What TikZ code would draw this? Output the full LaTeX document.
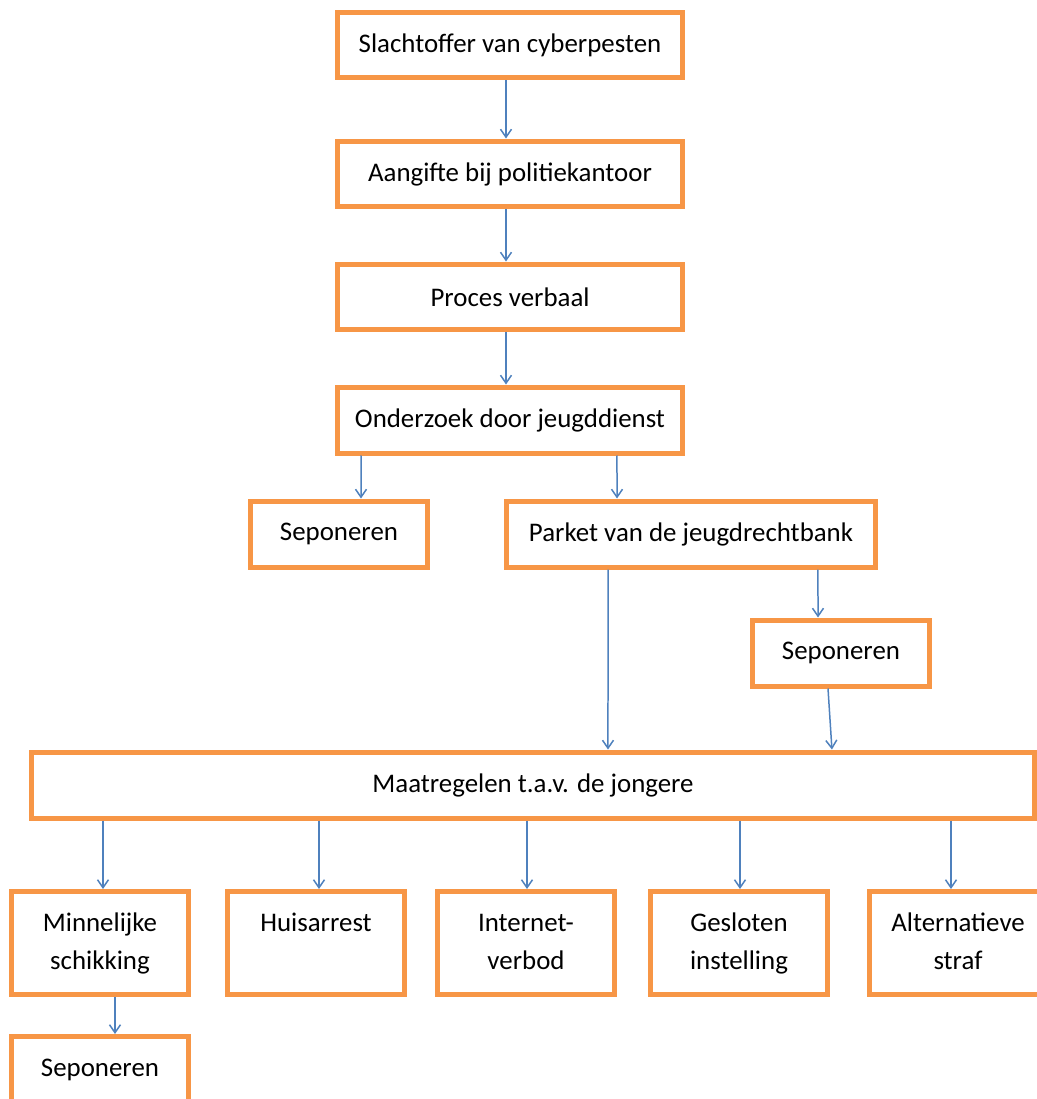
\documentclass[tikz,border=0pt]{standalone}
\usepackage{fontspec}
\setmainfont{Carlito}
\usetikzlibrary{positioning, arrows.meta}
\usepackage{xcolor}

\definecolor{boxorange}{HTML}{F79646}
\definecolor{arrowblue}{HTML}{4F81BD}

\begin{document}
\begin{tikzpicture}[x=0.02cm, y=-0.02cm,
    stepbox/.style={draw=boxorange, line width=0.1cm, minimum height=1.32cm, inner sep=2pt,
        font=\fontsize{15.3}{21.5}\selectfont},
    smallbox/.style={stepbox, minimum width=3.54cm, minimum height=2.06cm, align=center},
    flow/.style={draw=arrowblue, line width=0.03cm, -{Straight Barb[length=0.16cm, width=0.22cm]}}]
            \useasboundingbox (0,0) rectangle (1037,1099);
            \clip (0,0) rectangle (1037,1099);
            % chain at the top
            \node[stepbox, minimum width=6.9cm] (slacht) at (510,45) {Slachtoffer van cyberpesten};
            \node[stepbox, minimum width=6.9cm] (aangifte) at (510,174) {Aangifte bij politiekantoor};
            \node[stepbox, minimum width=6.9cm] (proces) at (510,297) {Proces verbaal};
            \node[stepbox, minimum width=6.9cm] (onderzoek) at (510,420) {Onderzoek door jeugddienst};
            \node[stepbox, minimum width=3.54cm] (sepA) at (339,534) {Seponeren};
            \node[stepbox, minimum width=7.38cm] (parket) at (691,534) {Parket van de jeugdrechtbank};
            \node[stepbox, minimum width=3.54cm] (sepB) at (841,653) {Seponeren};
            \node[stepbox, minimum width=20.06cm] (maat) at (533,785) {Maatregelen t.a.v. de jongere};

            \draw[flow] ([xshift=-0.08cm]slacht.south) -- ([xshift=-0.08cm]aangifte.north);
            \draw[flow] ([xshift=-0.08cm]aangifte.south) -- ([xshift=-0.08cm]proces.north);
            \draw[flow] ([xshift=-0.08cm]proces.south) -- ([xshift=-0.08cm]onderzoek.north);
            \draw[flow] ([xshift=-2.98cm]onderzoek.south) -- ([xshift=0.44cm]sepA.north);
            \draw[flow] ([xshift=2.14cm]onderzoek.south) -- ([xshift=-1.48cm]parket.north);
            \draw[flow] ([xshift=-1.66cm]parket.south) -- ([xshift=1.5cm]maat.north);
            \draw[flow] ([xshift=2.54cm]parket.south) -- ([xshift=-0.46cm]sepB.north);
            \draw[flow] ([xshift=-0.26cm]sepB.south) -- ([xshift=5.98cm]maat.north);

            % the measures
            \foreach \name/\cx/\s/\txt in {minn/100/0.06cm/{\strut Minnelijke\\\strut schikking},
                huis/316/0.06cm/{\strut Huisarrest\\\strut}, inet/526/0.02cm/{\strut Internet-\\\strut verbod},
                gesl/739/0.02cm/{\strut Gesloten\\\strut instelling}, alt/958/-0.14cm/{\strut Alternatieve\\\strut straf}}
            {
                \node[smallbox] (\name) at (\cx,943) {\txt};
                \draw[flow] ([xshift=\s]\name.north |- maat.south) -- ([xshift=\s]\name.north);
            }
            \node[smallbox] (sepC) at (100,1088) {\strut Seponeren\\\strut};
            \draw[flow] ([xshift=0.3cm]minn.south) -- ([xshift=0.3cm]sepC.north);
        \end{tikzpicture}
\end{document}
